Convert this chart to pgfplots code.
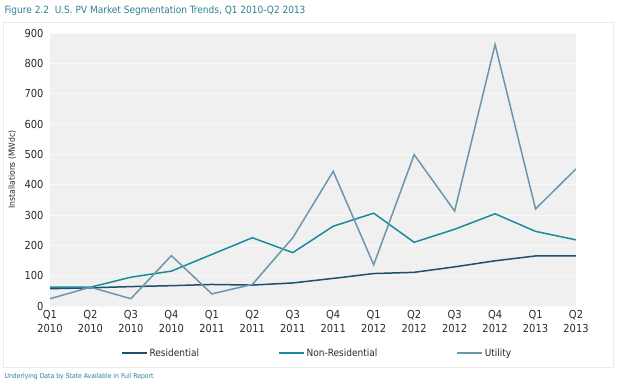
\documentclass[border=0pt]{standalone}
\usepackage{pgfplots}
\pgfplotsset{compat=1.18}
\usepackage{fontspec}
\setmainfont{DejaVu Sans Condensed}
\definecolor{resid}{HTML}{1F4E6E}
\definecolor{nonres}{HTML}{1A8A9C}
\definecolor{util}{HTML}{6A97AE}
\definecolor{bg}{HTML}{F0F0F0}
\definecolor{titlec}{HTML}{2E7F92}
\definecolor{txt}{HTML}{2A2A2A}
\pgfplotstableread{
x resid nonres util
0 57 62 24
1 60 62 62
2 64 95 24
3 67 115 166
4 71 170 40
5 69 225 71
6 76 176 225
7 91 263 444
8 107 306 136
9 111 210 499
10 129 253 313
11 149 304 862
12 165 246 320
13 165 218 452
}\datatable
\begin{document}
\begin{tikzpicture}[x=1pt,y=1pt]
\path[use as bounding box] (0,0) rectangle (620,383);
\draw[draw=black!8, line width=0.8pt] (3,16) rectangle (613,361);
\node[anchor=west, text=titlec, font=\fontsize{10}{12}\selectfont] at (1,372) {Figure 2.2\ \ U.S. PV Market Segmentation Trends, Q1 2010-Q2 2013};
\node[anchor=west, text=titlec, font=\fontsize{6.8}{8}\selectfont] at (1,6) {Underlying Data by State Available in Full Report};
\begin{axis}[
  at={(50pt,77pt)}, anchor=south west,
  width=526pt, height=273pt, scale only axis,
  xmin=0, xmax=13, ymin=0, ymax=900,
  axis background/.style={fill=bg},
  axis line style={draw=none},
  ymajorgrids, grid style={draw=white!60!bg, line width=0.6pt},
  major tick length=0pt,
  ytick={0,100,...,900},
  xtick={0,...,13},
  xticklabels={{Q1\\2010},{Q2\\2010},{Q3\\2010},{Q4\\2010},{Q1\\2011},{Q2\\2011},{Q3\\2011},{Q4\\2011},{Q1\\2012},{Q2\\2012},{Q3\\2012},{Q4\\2012},{Q1\\2013},{Q2\\2013}},
  xticklabel style={align=center, font=\fontsize{11}{14}\selectfont, text=txt, yshift=-1pt},
  yticklabel style={font=\fontsize{11}{13}\selectfont, text=txt, xshift=-3pt},
  /pgf/number format/assume math mode=true,
  ylabel={Installations (MWdc)},
  ylabel style={at={(axis description cs:-0.072,0.5)}, anchor=center, font=\fontsize{8.5}{10}\selectfont, text=txt},
  legend columns=3,
  legend style={at={(0.508,-0.172)}, anchor=center, draw=none, fill=none, font=\fontsize{10}{12}\selectfont, text=txt,
    /tikz/every even column/.append style={column sep=77pt}, inner sep=0pt},
  legend image code/.code={\draw[#1] (0pt,0pt) -- (25pt,0pt);},
  every axis plot/.append style={line width=1.5pt, mark=none, line join=miter},
]
\addplot[color=resid] table[x=x,y=resid] {\datatable};
\addlegendentry{Residential}
\addplot[color=nonres] table[x=x,y=nonres] {\datatable};
\addlegendentry{Non-Residential}
\addplot[color=util] table[x=x,y=util] {\datatable};
\addlegendentry{Utility}
\end{axis}
\end{tikzpicture}
\end{document}
